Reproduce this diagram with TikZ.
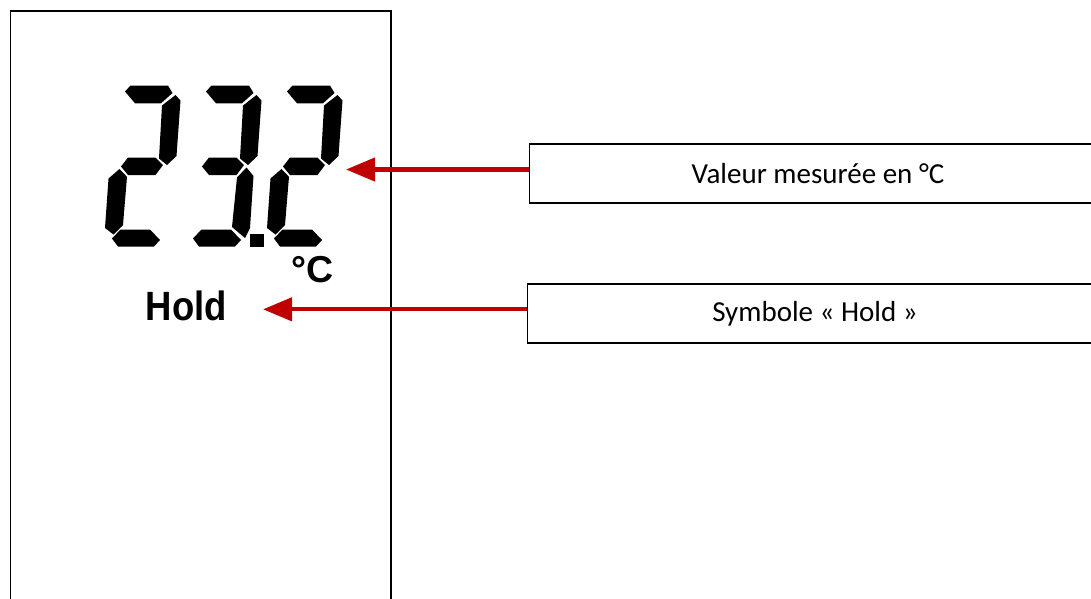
\documentclass[tikz,border=0pt]{standalone}
\usepackage{fontspec}
\setmainfont{Carlito}
\newfontfamily\arialfont{Liberation Sans}
\usetikzlibrary{arrows.meta}
\definecolor{arrred}{HTML}{C00000}
\newcommand{\sgA}{(125,91.5) -- (130.5,85.5) -- (168,85.5) -- (172.5,93) -- (161,103.3) -- (135,103.3) -- cycle}
\newcommand{\sgB}{(175.5,95) -- (180.5,100.5) -- (176.5,156) -- (167,165) -- (159,158.5) -- (162,105.5) -- cycle}
\newcommand{\sgG}{(121,166.5) -- (128,157.5) -- (155.5,157.5) -- (163,165) -- (155.5,175) -- (128,175) -- cycle}
\newcommand{\sgC}{(165.5,167.5) -- (172.5,176) -- (169,228) -- (164,238) -- (151,227) -- (156,177.5) -- cycle}
\newcommand{\sgE}{(119.5,169) -- (127,176.8) -- (123,225) -- (113.5,234.5) -- (105,228) -- (108.5,178.5) -- cycle}
\newcommand{\sgD}{(112,238.5) -- (120.5,229.5) -- (150,229.5) -- (160,240) -- (154,246.5) -- (118,246.5) -- cycle}
\begin{document}
\begin{tikzpicture}[x=1pt,y=-1pt,
  lcdseg/.style={fill=black,draw=none},
  callbox/.style={draw=black,line width=1.4pt,fill=none,inner sep=0pt,anchor=north west,minimum width=620pt},
  calltext/.style={inner sep=0pt,anchor=base,font=\fontsize{29}{34}\selectfont},
  callarrow/.style={draw=arrred,line width=4.3pt,-{Triangle[length=29pt,width=23pt]}},
  lcdtext/.style={inner sep=0pt,anchor=base west,font=\arialfont\bfseries}]
\useasboundingbox (0,0) rectangle (1091,598);
\clip (0,0) rectangle (1091,598);
\fill[white] (0,0) rectangle (1091,598);
% display frame
\draw[line width=1.7pt] (10.5,11) rectangle (391,650);
% digits 2 3 . 2
\fill[lcdseg] \sgA; \fill[lcdseg] \sgB; \fill[lcdseg] \sgG; \fill[lcdseg] \sgE; \fill[lcdseg] \sgD;
\begin{scope}[shift={(81,0)}]
\fill[lcdseg] \sgA; \fill[lcdseg] \sgB; \fill[lcdseg] \sgG; \fill[lcdseg] \sgC; \fill[lcdseg] \sgD;
\end{scope}
\fill[lcdseg] (250,233.5) rectangle (264,247);
\begin{scope}[shift={(162,0)}]
\fill[lcdseg] \sgA; \fill[lcdseg] \sgB; \fill[lcdseg] \sgG; \fill[lcdseg] \sgE; \fill[lcdseg] \sgD;
\end{scope}
% symbols
\node[lcdtext,font=\arialfont\bfseries\fontsize{37.5}{40}\selectfont] (degc) at (291,282) {°C};
\node[lcdtext,font=\arialfont\bfseries\fontsize{36.5}{40}\selectfont] (hold) at (145.5,320) {\scalebox{1}[1.12]{Hold}};
% callout boxes
\node[callbox,minimum height=59pt] (box1) at (529,143.3) {};
\node[callbox,minimum height=59pt] (box2) at (527,283.3) {};
\node[calltext] (lbl1) at (818,183) {Valeur mesurée en °C};
\node[calltext] (lbl2) at (815,321.7) {Symbole «~Hold~»};
% arrows
\coordinate (tip1) at (346,169.5);
\coordinate (tip2) at (263,309.3);
\draw[callarrow] (box1.west |- tip1) -- (tip1);
\draw[callarrow] (box2.west |- tip2) -- (tip2);
\end{tikzpicture}
\end{document}
